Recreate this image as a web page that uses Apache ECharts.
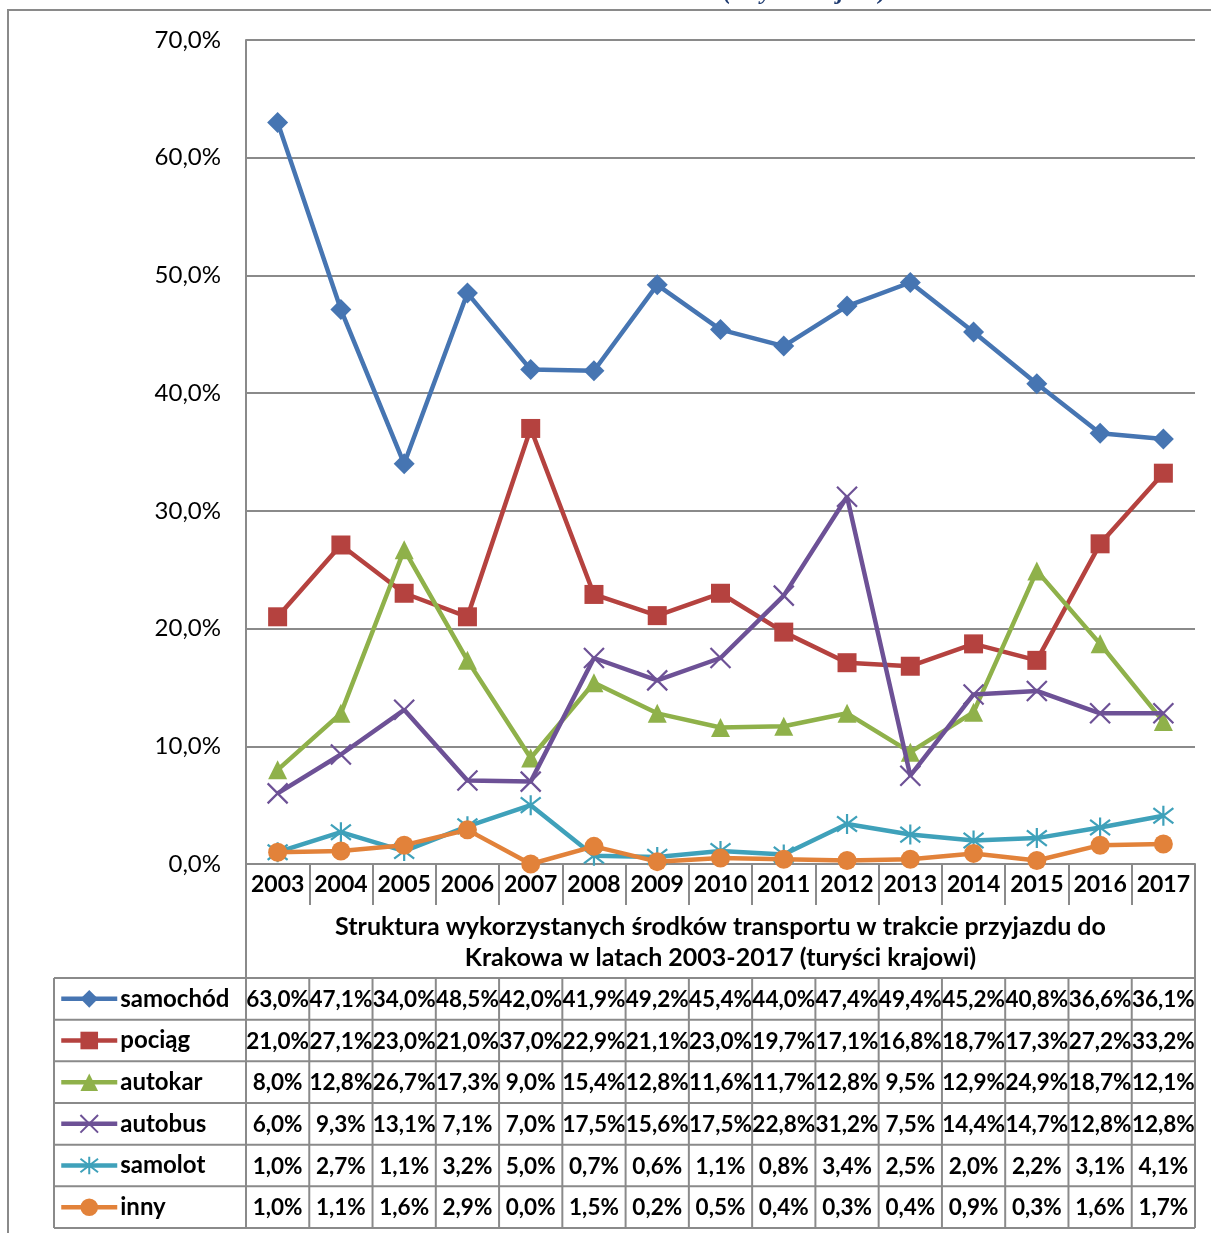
<!DOCTYPE html>
<html>
<head>
<meta charset="utf-8">
<script src="https://cdn.jsdelivr.net/npm/echarts@6/dist/echarts.min.js"></script>
<style>
html,body{margin:0;padding:0;background:#fff;}
#chart{width:1211px;height:1233px;}
</style>
</head>
<body>
<div id="chart"></div>
<script>
const years = ['2003','2004','2005','2006','2007','2008','2009','2010','2011','2012','2013','2014','2015','2016','2017'];
const samochod = [63.0,47.1,34.0,48.5,42.0,41.9,49.2,45.4,44.0,47.4,49.4,45.2,40.8,36.6,36.1];
const pociag   = [21.0,27.1,23.0,21.0,37.0,22.9,21.1,23.0,19.7,17.1,16.8,18.7,17.3,27.2,33.2];
const autokar  = [8.0,12.8,26.7,17.3,9.0,15.4,12.8,11.6,11.7,12.8,9.5,12.9,24.9,18.7,12.1];
const autobus  = [6.0,9.3,13.1,7.1,7.0,17.5,15.6,17.5,22.8,31.2,7.5,14.4,14.7,12.8,12.8];
const samolot  = [1.0,2.7,1.1,3.2,5.0,0.7,0.6,1.1,0.8,3.4,2.5,2.0,2.2,3.1,4.1];
const inny     = [1.0,1.1,1.6,2.9,0.0,1.5,0.2,0.5,0.4,0.3,0.4,0.9,0.3,1.6,1.7];
const seriesNames = ['samochód','pociąg','autokar','autobus','samolot','inny'];
const seriesData = [samochod, pociag, autokar, autobus, samolot, inny];
const yMin = 0, yMax = 70, yStep = 10;
const axisTitle = 'Struktura wykorzystanych środków transportu w trakcie przyjazdu do\nKrakowa w latach 2003-2017 (turyści krajowi)';
const topTitle = '(turyści krajowi)';

const colors = ['#4675B2','#B5423F','#8FB14A','#6D5196','#3FA1BA','#E2823A'];
const symbols = ['diamond','rect','triangle',
  'path://M0,0L10,10M10,0L0,10',
  'path://M0,0L10,10M10,0L0,10M5,-1.5L5,11.5',
  'circle'];
const strokeSym = [false,false,false,true,true,false];

const FONT = 'Lato';
const gridLeft = 246, gridRight = 16, gridTop = 40, gridBottom = 369;
const tableTop = 978, rowH = 41.67, tableLeft = 54;

const chart = echarts.init(document.getElementById('chart'), null, {renderer:'canvas'});

const fmt = v => v.toFixed(1).replace('.', ',') + '%';

const series = seriesNames.map((n, i) => ({
  name: n,
  type: 'line',
  data: seriesData[i],
  symbol: symbols[i],
  symbolSize: strokeSym[i] ? 20 : (i === 0 ? 21 : 19),
  showAllSymbol: true,
  lineStyle: { color: colors[i], width: 4.5 },
  itemStyle: strokeSym[i]
    ? { color: colors[i], borderColor: colors[i], borderWidth: 2.2 }
    : { color: colors[i], borderWidth: 0 },
  emphasis: { disabled: true },
  animation: false,
  z: 2 + i
}));

const legends = seriesNames.map((n, r) => ({
  orient: 'horizontal',
  left: 59,
  top: tableTop + r * rowH + (rowH - 22) / 2 - 1,
  padding: 0,
  itemWidth: 56,
  itemHeight: 22,
  selectedMode: false,
  lineStyle: { width: 4.5 },
  textStyle: { fontFamily: FONT, fontWeight: 'bold', fontSize: 24, color: '#000', lineHeight: 22, padding: [0, 0, 0, -2] },
  data: [n]
}));

chart.setOption({
  animation: false,
  grid: { left: gridLeft, right: gridRight, top: gridTop, bottom: gridBottom, containLabel: false },
  legend: legends,
  xAxis: {
    type: 'category',
    data: years,
    boundaryGap: true,
    axisLine: { show: true, lineStyle: { color: '#8a8a8a', width: 2 } },
    axisTick: { show: true, inside: false, length: 41, interval: 0, lineStyle: { color: '#8a8a8a', width: 2 } },
    axisLabel: { interval: 0, fontFamily: FONT, fontWeight: 'bold', fontSize: 23, color: '#000', margin: 9, lineHeight: 23 },
    name: axisTitle,
    nameLocation: 'middle',
    nameGap: 47,
    nameTextStyle: { fontFamily: FONT, fontWeight: 'bold', fontSize: 25, color: '#000', lineHeight: 31, align: 'center' },
    splitLine: { show: false }
  },
  yAxis: {
    type: 'value',
    min: yMin, max: yMax, interval: yStep,
    axisLine: { show: true, lineStyle: { color: '#8a8a8a', width: 2 } },
    axisTick: { show: false },
    axisLabel: { fontFamily: FONT, fontSize: 24, color: '#000', margin: 25, formatter: v => fmt(v) },
    splitLine: { show: true, lineStyle: { color: '#8a8a8a', width: 2 } }
  },
  series: series
});

// table built from data through the axis scale
const band = chart.convertToPixel({xAxisIndex: 0}, 1) - chart.convertToPixel({xAxisIndex: 0}, 0);
const cx = i => chart.convertToPixel({xAxisIndex: 0}, i);
const axisY = chart.convertToPixel({yAxisIndex: 0}, 0);
const leftX = cx(0) - band / 2;
const rightX = cx(years.length - 1) + band / 2;
const nRows = seriesNames.length;
const tableBottom = tableTop + rowH * nRows;
const gridColor = '#8a8a8a';

const g = [];
const line = (x1, y1, x2, y2) => g.push({
  type: 'line', silent: true, z: 1,
  shape: { x1, y1, x2, y2 },
  style: { stroke: gridColor, lineWidth: 2 }
});
for (let r = 0; r <= nRows; r++) line(tableLeft, tableTop + r * rowH, rightX, tableTop + r * rowH);
line(tableLeft, tableTop, tableLeft, tableBottom);
line(leftX, axisY, leftX, tableBottom);
line(rightX, axisY, rightX, tableBottom);
for (let i = 1; i < years.length; i++) {
  const x = cx(i) - band / 2;
  line(x, tableTop, x, tableBottom);
}
seriesData.forEach((arr, r) => {
  arr.forEach((v, i) => {
    g.push({
      type: 'text', silent: true, z: 3,
      x: cx(i), y: tableTop + rowH * r + rowH / 2 + 1,
      style: { text: fmt(v), fontFamily: FONT, fontWeight: 'bold', fontSize: 22.5,
               fill: '#000', align: 'center', verticalAlign: 'middle' }
    });
  });
});
// outer frame
g.push({ type: 'polyline', silent: true, shape: { points: [[8, 1240], [8, 10], [1215, 10]] },
  style: { stroke: '#8a8a8a', lineWidth: 2, fill: null } });
// clipped title above frame
g.push({ type: 'text', silent: true, x: 805, y: -19,
  style: { text: topTitle, fontFamily: 'Liberation Serif', fontStyle: 'italic', fontWeight: 'bold',
           fontSize: 24, fill: '#1F3B70', align: 'center', verticalAlign: 'top' } });

chart.setOption({ graphic: g });
</script>
</body>
</html>
